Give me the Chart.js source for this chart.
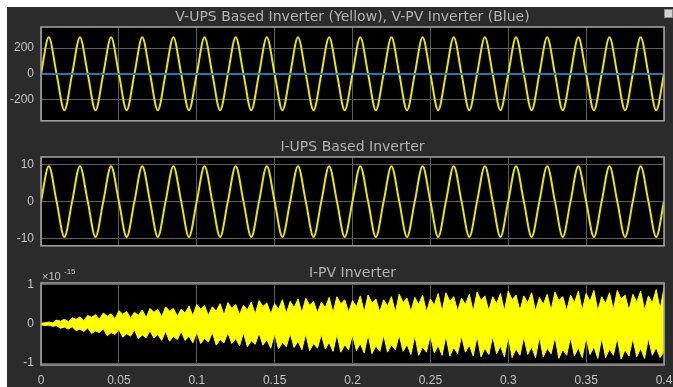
<!DOCTYPE html>
<html>
<head>
<meta charset="utf-8">
<script src="https://cdn.jsdelivr.net/npm/chart.js"></script>
<style>
  body { margin: 0; background: #fff; }
  #wrap { position: relative; width: 673px; height: 387px; overflow: hidden; background: #fff; }
  #bg { position: absolute; left: 7px; top: 7px; width: 666px; height: 380px; background: #2b2b2b; }
  canvas { position: absolute; left: 0; }
  #c1 { top: 0; }
  #c2 { top: 135px; }
  #c3 { top: 260px; }
  #icon { position: absolute; left: 664px; top: 9px; width: 7px; height: 7px; background: #d0d0d0; border: 1px solid #8a8a8a; }
</style>
</head>
<body>
<div id="wrap">
  <div id="bg"></div>
  <canvas id="c1" width="690" height="135"></canvas>
  <canvas id="c2" width="690" height="125"></canvas>
  <canvas id="c3" width="690" height="127"></canvas>
  <div id="icon"></div>
</div>
<script>
// time axis
const timeTicks = [0, 0.05, 0.1, 0.15, 0.2, 0.25, 0.3, 0.35, 0.4];
const halfPeriod = 0.01;   // 50 Hz

// V-UPS inverter: peak of each half cycle (V)
const vUpsExtrema = [
  283, -281, 283, -281, 283, -281, 283, -281, 283, -281,
  283, -281, 283, -281, 283, -281, 283, -281, 283, -281,
  283, -281, 283, -281, 283, -281, 283, -281, 283, -281,
  283, -281, 283, -281, 283, -281, 283, -281, 283, -281
];
// V-PV inverter (flat zero)
const vPvTimes = [0, 0.4];
const vPvValues = [0, 0];
const vTicks = [-200, 0, 200];

// I-UPS inverter: peak of each half cycle (A)
const iUpsExtrema = [
  9.5, -9.6, 9.5, -9.6, 9.5, -9.6, 9.5, -9.6, 9.5, -9.6,
  9.5, -9.6, 9.5, -9.6, 9.5, -9.6, 9.5, -9.6, 9.5, -9.6,
  9.5, -9.6, 9.5, -9.6, 9.5, -9.6, 9.5, -9.6, 9.5, -9.6,
  9.5, -9.6, 9.5, -9.6, 9.5, -9.6, 9.5, -9.6, 9.5, -9.6
];
const iTicks = [-10, 0, 10];

// I-PV inverter envelope (x 1e-15), one value every 2.5 ms
const ipvStep = 0.0025;
const ipvUpper = [
  0.02, 0.03, 0.05, 0.03,  0.10, 0.07, 0.12, 0.06,  0.16, 0.12, 0.18, 0.09,  0.22, 0.17, 0.24, 0.12,
  0.28, 0.20, 0.26, 0.13,  0.34, 0.25, 0.32, 0.15,  0.30, 0.22, 0.36, 0.16,  0.40, 0.30, 0.38, 0.18,
  0.44, 0.33, 0.40, 0.20,  0.38, 0.28, 0.46, 0.21,  0.50, 0.38, 0.47, 0.22,  0.44, 0.33, 0.52, 0.23,
  0.55, 0.40, 0.50, 0.24,  0.48, 0.36, 0.56, 0.25,  0.60, 0.45, 0.54, 0.26,  0.52, 0.38, 0.62, 0.27,
  0.58, 0.42, 0.64, 0.28,  0.66, 0.48, 0.58, 0.28,  0.56, 0.42, 0.68, 0.29,  0.70, 0.52, 0.62, 0.30,
  0.60, 0.44, 0.72, 0.30,  0.74, 0.54, 0.64, 0.31,  0.62, 0.46, 0.70, 0.30,  0.76, 0.55, 0.66, 0.32,
  0.68, 0.50, 0.74, 0.31,  0.64, 0.48, 0.78, 0.32,  0.80, 0.58, 0.70, 0.33,  0.66, 0.50, 0.76, 0.32,
  0.82, 0.60, 0.72, 0.34,  0.70, 0.52, 0.78, 0.33,  0.84, 0.62, 0.74, 0.34,  0.72, 0.54, 0.80, 0.33,
  0.68, 0.50, 0.76, 0.35,  0.82, 0.60, 0.70, 0.34,  0.74, 0.55, 0.84, 0.35,  0.78, 0.58, 0.86, 0.34,
  0.70, 0.52, 0.80, 0.36,  0.86, 0.64, 0.74, 0.35,  0.76, 0.56, 0.84, 0.36,  0.72, 0.54, 0.88, 0.38,
  0.92
];
const ipvLower = [
  -0.02, -0.04, -0.03, -0.06,  -0.04, -0.11, -0.08, -0.13,  -0.07, -0.17, -0.13, -0.19,  -0.10, -0.24, -0.18, -0.22,
  -0.12, -0.30, -0.22, -0.27,  -0.14, -0.34, -0.25, -0.31,  -0.15, -0.38, -0.28, -0.35,  -0.17, -0.36, -0.27, -0.42,
  -0.18, -0.44, -0.32, -0.40,  -0.19, -0.42, -0.31, -0.48,  -0.20, -0.50, -0.37, -0.46,  -0.21, -0.54, -0.40, -0.48,
  -0.22, -0.50, -0.37, -0.56,  -0.22, -0.58, -0.43, -0.52,  -0.23, -0.54, -0.40, -0.62,  -0.24, -0.64, -0.47, -0.58,
  -0.24, -0.60, -0.44, -0.66,  -0.25, -0.68, -0.50, -0.62,  -0.26, -0.64, -0.47, -0.70,  -0.26, -0.72, -0.53, -0.66,
  -0.27, -0.68, -0.50, -0.74,  -0.27, -0.76, -0.56, -0.70,  -0.28, -0.72, -0.53, -0.66,  -0.28, -0.70, -0.52, -0.78,
  -0.29, -0.80, -0.59, -0.72,  -0.29, -0.74, -0.55, -0.80,  -0.30, -0.82, -0.60, -0.76,  -0.30, -0.72, -0.54, -0.82,
  -0.31, -0.84, -0.62, -0.78,  -0.31, -0.76, -0.56, -0.84,  -0.32, -0.86, -0.63, -0.80,  -0.32, -0.78, -0.58, -0.86,
  -0.33, -0.84, -0.62, -0.76,  -0.33, -0.88, -0.65, -0.80,  -0.34, -0.82, -0.60, -0.86,  -0.34, -0.78, -0.58, -0.88,
  -0.35, -0.86, -0.64, -0.80,  -0.35, -0.90, -0.66, -0.82,  -0.36, -0.84, -0.62, -0.88,  -0.36, -0.80, -0.60, -0.86,
  -0.70
];
const ipvTicks = [-1, 0, 1];

const FONT = "'Liberation Sans', Arial, sans-serif";
const TITLE_FONT = "'DejaVu Sans', sans-serif";
const textColor = '#c4c4c4';
const gridColor = '#5e5e5e';
const yellow = '#e8e800';

function halfWave(extrema) {
  const pts = [{ x: 0, y: 0 }];
  extrema.forEach((a, h) => {
    pts.push({ x: h * halfPeriod + halfPeriod / 2, y: a });
    pts.push({ x: (h + 1) * halfPeriod, y: 0 });
  });
  return pts;
}

const plotFrame = {
  id: 'plotFrame',
  beforeDraw(chart) {
    const a = chart.chartArea, ctx = chart.ctx;
    ctx.save();
    ctx.fillStyle = '#000';
    ctx.fillRect(a.left, a.top, a.right - a.left, a.bottom - a.top);
    ctx.restore();
  },
  afterDraw(chart, args, opts) {
    const a = chart.chartArea, ctx = chart.ctx;
    ctx.save();
    ctx.strokeStyle = '#a6a6a6';
    ctx.lineWidth = 1.5;
    ctx.strokeRect(a.left, a.top, a.right - a.left, a.bottom - a.top);
    if (opts.multiplier) {
      ctx.fillStyle = textColor;
      ctx.textBaseline = 'middle';
      ctx.font = '11px ' + FONT;
      ctx.fillText('\u00d710', a.left + 1, a.top - 6);
      ctx.font = '8px ' + FONT;
      ctx.fillText('-15', a.left + 23, a.top - 11);
    }
    ctx.restore();
  }
};

function panel(id, title, datasets, cfg) {
  new Chart(document.getElementById(id), {
    type: 'line',
    data: { datasets: datasets },
    options: {
      responsive: false,
      animation: false,
      layout: { padding: { left: 0, right: 26, top: 0, bottom: cfg.bottomPad } },
      elements: { point: { radius: 0 } },
      plugins: {
        legend: { display: false },
        tooltip: { enabled: false },
        title: {
          display: true, text: title, color: '#b4b4b4', fullSize: false,
          font: { family: TITLE_FONT, size: 14, weight: 'normal' },
          padding: cfg.titlePad
        },
        plotFrame: { multiplier: !!cfg.multiplier }
      },
      scales: {
        x: {
          type: 'linear', min: 0, max: 0.4,
          afterBuildTicks: s => { s.ticks = timeTicks.map(v => ({ value: v })); },
          afterFit: s => { s.height = cfg.showX ? 22 : 0; },
          grid: { color: gridColor, drawTicks: false, lineWidth: 1 },
          border: { display: false },
          ticks: {
            display: cfg.showX, color: textColor, padding: 8,
            font: { family: FONT, size: 12 },
            maxRotation: 0, autoSkip: false,
            callback: v => String(v)
          }
        },
        y: {
          min: cfg.min, max: cfg.max,
          afterBuildTicks: s => { s.ticks = cfg.ticks.map(v => ({ value: v })); },
          afterFit: s => { s.width = 41; },
          grid: { color: gridColor, drawTicks: false, lineWidth: 1 },
          border: { display: false },
          ticks: {
            color: textColor, padding: 7,
            font: { family: FONT, size: 12 },
            callback: v => String(v)
          }
        }
      }
    },
    plugins: [plotFrame]
  });
}

panel('c1', 'V-UPS Based Inverter (Yellow), V-PV Inverter (Blue)', [
  {
    label: 'V-PV',
    data: vPvTimes.map((t, i) => ({ x: t, y: vPvValues[i] })),
    borderColor: '#1a7cc0', borderWidth: 2
  },
  {
    label: 'V-UPS',
    data: halfWave(vUpsExtrema),
    borderColor: yellow, borderWidth: 2,
    cubicInterpolationMode: 'monotone'
  }
], { min: -363, max: 363, ticks: vTicks, bottomPad: 10, showX: false,
     titlePad: { top: 9.1, bottom: 1.1 } });

panel('c2', 'I-UPS Based Inverter', [
  {
    label: 'I-UPS',
    data: halfWave(iUpsExtrema),
    borderColor: yellow, borderWidth: 2,
    cubicInterpolationMode: 'monotone'
  }
], { min: -12, max: 12, ticks: iTicks, bottomPad: 8, showX: false,
     titlePad: { top: 3.6, bottom: 1.6 } });

panel('c3', 'I-PV Inverter', [
  {
    label: 'I-PV upper',
    data: ipvUpper.map((v, i) => ({ x: i * ipvStep, y: v })),
    borderColor: '#ffff00', borderWidth: 1, tension: 0,
    backgroundColor: '#ffff00', fill: '+1'
  },
  {
    label: 'I-PV lower',
    data: ipvLower.map((v, i) => ({ x: i * ipvStep, y: v })),
    borderColor: '#ffff00', borderWidth: 1, tension: 0
  }
], { min: -1.05, max: 1.05, ticks: ipvTicks, bottomPad: 0, showX: true, multiplier: true,
     titlePad: { top: 4.6, bottom: 1.6 } });
</script>
</body>
</html>
